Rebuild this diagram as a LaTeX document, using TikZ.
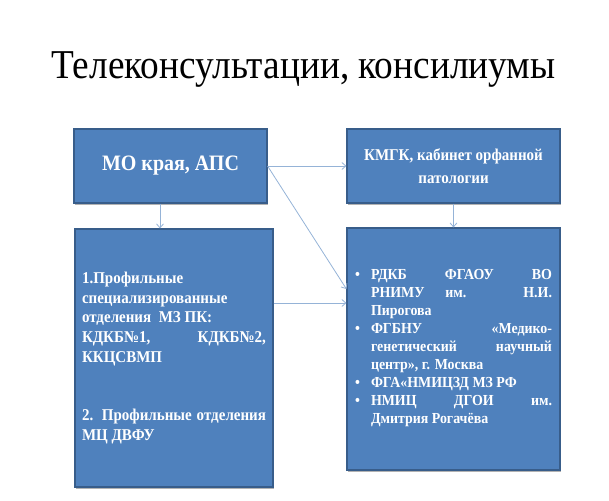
\documentclass[tikz,border=0pt]{standalone}
\usepackage{fontspec}
\setmainfont{Liberation Serif}[FakeStretch=0.91]
\usetikzlibrary{arrows.meta,positioning,shadows}
\definecolor{boxblue}{RGB}{79,129,189}
\definecolor{boxedge}{RGB}{56,93,138}
\definecolor{arrblue}{RGB}{149,179,215}

\begin{document}
\begin{tikzpicture}[
  x=1pt,y=-1pt,
  box/.style={draw=boxedge,line width=1.1pt,fill=boxblue,text=white,align=center,inner sep=0pt,
    drop shadow={shadow xshift=1.2pt,shadow yshift=-1.5pt,fill=black,opacity=0.3}},
  arr/.style={-{Straight Barb[length=4pt,width=7pt]},draw=arrblue,line width=0.8pt}
]
\useasboundingbox (0,0) rectangle (609,500);

\node[anchor=base,font=\fontsize{41}{48}\selectfont] (title) at (303.5,78) {Телеконсультации, консилиумы};

\node[box,minimum width=193pt,minimum height=74pt,font=\bfseries\fontsize{22}{26}\selectfont] (mo) at (170.5,166) {МО края, АПС};
\node[box,minimum width=213pt,minimum height=74pt,font=\bfseries\fontsize{16.5}{23}\selectfont] (kmgk) at (453.5,166) {КМГК, кабинет орфанной\\патологии};
\node[box,minimum width=198pt,minimum height=258pt,text width=184pt,align=justify,font=\bfseries\fontsize{16.5}{19.7}\selectfont] (dep) at (174,358)
  {1.Профильные\\ специализированные\\ отделения~ МЗ ПК:\\ КДКБ№1, КДКБ№2,\linebreak ККЦСВМП\\[39pt] 2. Профильные отделения\linebreak МЦ ДВФУ};
\node[box,minimum width=213pt,minimum height=242pt,text width=197pt,align=justify,font=\bfseries\fontsize{15.3}{18}\selectfont] (fed) at (453.5,349)
  {\begin{list}{\textbullet}{\leftmargin=16pt\labelwidth=5pt\labelsep=11pt\itemsep=0pt\parsep=0pt\topsep=0pt\partopsep=0pt}
   \item РДКБ ФГАОУ ВО\linebreak РНИМУ им. Н.И.\linebreak Пирогова
   \item ФГБНУ «Медико-\linebreak генетический научный\linebreak центр», г. Москва
   \item ФГА«НМИЦЗД МЗ РФ
   \item НМИЦ ДГОИ им.\linebreak Дмитрия Рогачёва
   \end{list}\vspace{10pt}};

\draw[arr] ([xshift=-10.5pt]mo.south) -- ([xshift=-10.5pt]mo.south |- dep.north);
\draw[arr] (mo) -- (kmgk);
\draw[arr] (mo.east) -- ([yshift=60pt]fed.west);
\draw[arr] ([yshift=55pt]dep.east) -- ([yshift=55pt]dep.east -| fed.west);
\draw[arr] (kmgk) -- (fed);
\end{tikzpicture}
\end{document}
